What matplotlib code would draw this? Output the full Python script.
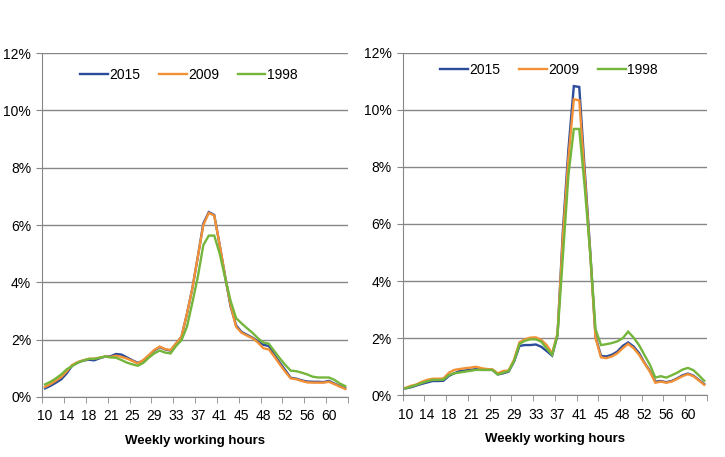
import matplotlib
matplotlib.use("Agg")
import matplotlib.pyplot as plt
from matplotlib.ticker import FuncFormatter, FixedLocator

plt.rcParams['font.family'] = ['Liberation Sans', 'DejaVu Sans']

# tick labels shown every 4th category (weekly working hours)
tick_labels = ['10', '14', '18', '21', '25', '29', '33', '37', '41', '45', '48', '52', '56', '60']
years = ['2015', '2009', '1998']

# left panel, share of workers (%)
left_2015 = [0.30, 0.39, 0.50, 0.62, 0.83, 1.10, 1.20, 1.27, 1.30, 1.28, 1.35, 1.41, 1.42, 1.50,
             1.48, 1.38, 1.28, 1.19, 1.27, 1.44, 1.62, 1.74, 1.66, 1.62, 1.86, 2.10, 2.90, 3.80,
             4.90, 6.05, 6.45, 6.35, 5.30, 4.20, 3.15, 2.50, 2.27, 2.17, 2.07, 1.94, 1.82, 1.78,
             1.47, 1.20, 0.94, 0.67, 0.64, 0.58, 0.54, 0.53, 0.53, 0.52, 0.56, 0.47, 0.38, 0.30]
left_2009 = [0.35, 0.45, 0.57, 0.70, 0.90, 1.12, 1.22, 1.28, 1.33, 1.34, 1.37, 1.41, 1.40, 1.44,
             1.40, 1.34, 1.26, 1.17, 1.29, 1.46, 1.64, 1.76, 1.67, 1.64, 1.87, 2.10, 2.90, 3.80,
             4.90, 6.00, 6.42, 6.33, 5.30, 4.20, 3.20, 2.45, 2.24, 2.14, 2.05, 1.90, 1.70, 1.66,
             1.41, 1.14, 0.88, 0.65, 0.62, 0.56, 0.51, 0.50, 0.50, 0.50, 0.53, 0.45, 0.36, 0.28]
left_1998 = [0.44, 0.53, 0.65, 0.79, 0.97, 1.08, 1.20, 1.27, 1.33, 1.33, 1.37, 1.41, 1.38, 1.37,
             1.29, 1.20, 1.14, 1.09, 1.19, 1.37, 1.52, 1.62, 1.55, 1.52, 1.78, 1.98, 2.45, 3.30,
             4.20, 5.30, 5.63, 5.63, 5.00, 4.15, 3.35, 2.75, 2.57, 2.40, 2.24, 2.05, 1.90, 1.86,
             1.60, 1.35, 1.12, 0.92, 0.90, 0.85, 0.79, 0.71, 0.68, 0.68, 0.68, 0.60, 0.47, 0.38]

# right panel
right_2015 = [0.24, 0.28, 0.34, 0.40, 0.45, 0.50, 0.50, 0.51, 0.68, 0.77, 0.85, 0.87, 0.89, 0.92,
              0.89, 0.89, 0.89, 0.73, 0.77, 0.83, 1.18, 1.73, 1.76, 1.76, 1.78, 1.70, 1.55, 1.39,
              2.10, 5.80, 8.60, 10.83, 10.80, 7.90, 5.10, 2.05, 1.38, 1.36, 1.42, 1.53, 1.73, 1.85,
              1.71, 1.48, 1.14, 0.85, 0.48, 0.50, 0.46, 0.50, 0.59, 0.70, 0.76, 0.69, 0.54, 0.39]
right_2009 = [0.26, 0.33, 0.38, 0.47, 0.54, 0.58, 0.58, 0.59, 0.79, 0.89, 0.92, 0.95, 0.97, 1.00,
              0.95, 0.92, 0.91, 0.77, 0.85, 0.87, 1.25, 1.86, 1.96, 2.02, 2.03, 1.94, 1.76, 1.47,
              2.17, 5.60, 8.30, 10.37, 10.33, 7.70, 5.00, 2.00, 1.33, 1.30, 1.36, 1.47, 1.65, 1.80,
              1.65, 1.42, 1.12, 0.83, 0.44, 0.48, 0.44, 0.48, 0.57, 0.67, 0.74, 0.67, 0.52, 0.37]
right_1998 = [0.24, 0.30, 0.36, 0.43, 0.49, 0.54, 0.54, 0.55, 0.71, 0.77, 0.80, 0.83, 0.86, 0.89,
              0.89, 0.89, 0.89, 0.73, 0.79, 0.85, 1.20, 1.80, 1.91, 1.96, 1.96, 1.88, 1.64, 1.42,
              2.12, 4.90, 7.70, 9.33, 9.33, 7.30, 5.00, 2.31, 1.76, 1.79, 1.83, 1.89, 2.00, 2.23,
              2.02, 1.76, 1.41, 1.07, 0.62, 0.67, 0.62, 0.70, 0.79, 0.90, 0.96, 0.88, 0.70, 0.51]

colors = ['#2B4C9B', '#F39137', '#74B63B']
grid_col = '#878787'


def draw_panel(ax, series, legend_y):
    n = len(series[0])
    x = list(range(n))
    for vals, c, lab in zip(series, colors, years):
        ax.plot(x, [v / 100 for v in vals], color=c, lw=1.7, label=lab,
                solid_joinstyle='miter')
    ax.set_xlim(-0.5, n - 0.5)
    ax.set_ylim(0, 0.12)
    ax.set_yticks([0, 0.02, 0.04, 0.06, 0.08, 0.10, 0.12])
    ax.yaxis.set_major_formatter(FuncFormatter(lambda v, p: f"{v * 100:.0f}%"))
    ax.yaxis.grid(True, color=grid_col, lw=1)
    ax.set_axisbelow(True)
    # tick marks between categories, labels under every 4th category
    ax.set_xticks([i for i in range(0, n, 4)])
    ax.set_xticklabels(tick_labels)
    ax.xaxis.set_minor_locator(FixedLocator([i - 0.5 for i in range(0, n + 1, 4)]))
    ax.tick_params(axis='x', which='major', length=0, pad=9, labelsize=10)
    ax.tick_params(axis='x', which='minor', length=4, color=grid_col)
    ax.tick_params(axis='y', length=4, color=grid_col, labelsize=10, pad=4)
    for s in ['top', 'right']:
        ax.spines[s].set_visible(False)
    for s in ['left', 'bottom']:
        ax.spines[s].set_color(grid_col)
    ax.set_xlabel('Weekly working hours', fontweight='bold', fontsize=9.5, labelpad=8)
    ax.legend(loc='center left', bbox_to_anchor=(0.123, legend_y), ncol=3, frameon=False,
              fontsize=10, handlelength=2.0, handletextpad=0.1, columnspacing=1.35,
              borderpad=0, borderaxespad=0)


fig = plt.figure(figsize=(7.25, 4.57), dpi=100)
ax1 = fig.add_axes([0.0583, 0.1313, 0.4217, 0.7527])
ax2 = fig.add_axes([0.5554, 0.135, 0.4197, 0.7497])
draw_panel(ax1, [left_2015, left_2009, left_1998], 0.936)
draw_panel(ax2, [right_2015, right_2009, right_1998], 0.95)

fig.savefig('out.png', dpi=100)
